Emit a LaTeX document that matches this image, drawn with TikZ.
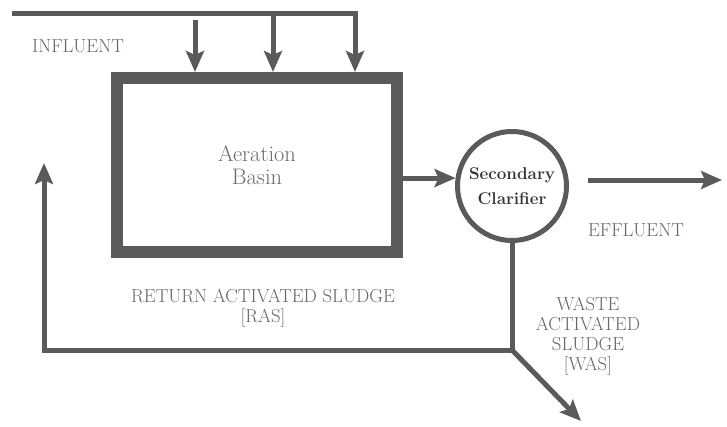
\documentclass[tikz,border=0pt]{standalone}
\usepackage{fontspec}
\usetikzlibrary{arrows.meta}
\definecolor{pipegray}{HTML}{5A5A5A}
\definecolor{labelgray}{HTML}{666666}

\begin{document}
\begin{tikzpicture}[x=1pt,y=-1pt]
        \tikzset{pipeline/.style={draw=pipegray, line width=5pt},
                 flowline/.style={pipeline, -{Stealth[length=21pt,width=18pt,inset=4pt]}},
                 tagtext/.style={text=labelgray, font=\fontsize{18.8}{20}\selectfont,
                                 align=center, inner sep=0pt}}
        \useasboundingbox (0,0) rectangle (727,426);
        \node[draw=pipegray, line width=12pt, minimum width=280pt, minimum height=174pt,
              inner sep=0pt, align=center, text=pipegray!90,
              font=\fontsize{22.5}{23}\selectfont] (basin) at (257,165) {Aeration\\Basin};
        \node[circle, draw=pipegray, line width=5pt, minimum size=109pt, inner sep=0pt,
              align=center, text=black!80,
              font=\fontsize{17}{25}\selectfont\bfseries] (clar) at (512,186) {Secondary\\Clarifier};
        \coordinate (inlet) at (12,13);
        \coordinate (bend) at (355,13);
        \coordinate (feedA) at (195,20);
        \coordinate (feedB) at (273,13);
        \coordinate (split) at (512,350);
        \coordinate (ret) at (44,350);
        \coordinate (retTip) at (44,163);
        \coordinate (wasTip) at (581,421);
        \coordinate (effIn) at (588,180);
        \coordinate (effOut) at (722,180);
        \node[tagtext] (influent) at (78,46) {INFLUENT};
        \node[tagtext] (effluent) at (636,230) {EFFLUENT};
        \node[tagtext] (ras) at (263,308) {RETURN ACTIVATED SLUDGE\\{[RAS]}};
        \node[tagtext] (was) at (588,336) {WASTE\\ACTIVATED\\SLUDGE\\{[WAS]}};
        \draw[flowline] (inlet) -- (bend) -- (bend |- basin.north);
        \draw[flowline] (feedA) -- (feedA |- basin.north);
        \draw[flowline] (feedB) -- (feedB |- basin.north);
        \draw[flowline] (basin.east |- clar.172) -- (clar.172);
        \draw[flowline] (effIn) -- (effOut);
        \draw[pipeline] (clar.south) -- (split);
        \draw[flowline] (split) -- (ret) -- (retTip);
        \draw[flowline] (split) -- (wasTip);
    \end{tikzpicture}
\end{document}
